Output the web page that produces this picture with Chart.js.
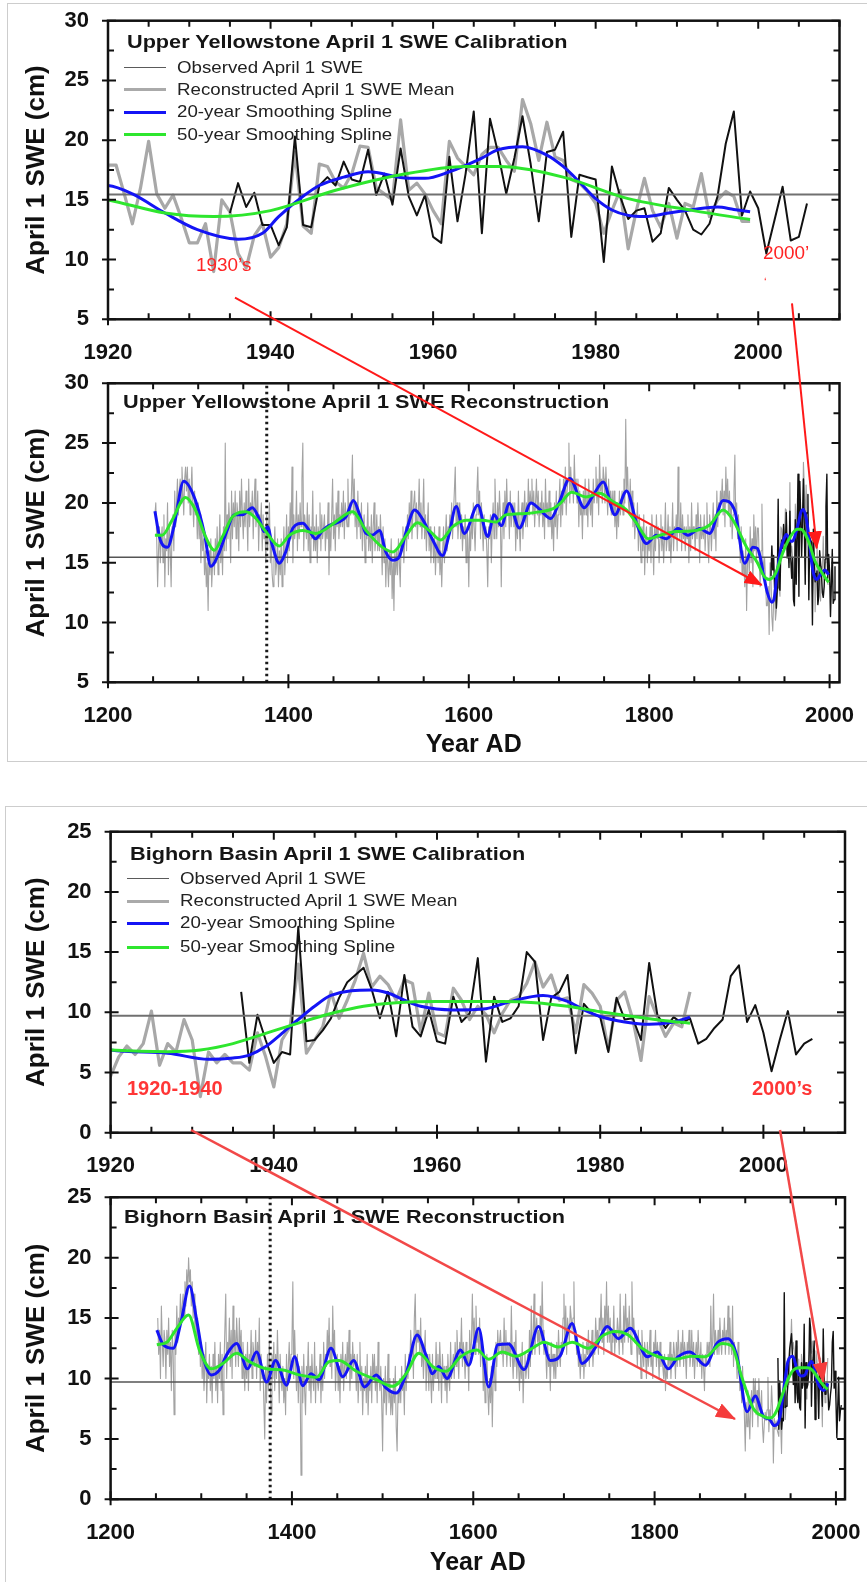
<!DOCTYPE html>
<html>
<head>
<meta charset="utf-8">
<script src="https://cdn.jsdelivr.net/npm/chart.js"></script>
<style>
  body { margin: 0; width: 867px; height: 1582px; overflow: hidden; position: relative; background: #fff;
         font-family: "Liberation Sans", Arial, Helvetica, sans-serif; }
  .frame { position: absolute; border: 1px solid #cdcdcd; }
  canvas { position: absolute; left: 0; }
  .txt { position: absolute; white-space: nowrap; line-height: 20px; transform-origin: 0 50%; }
  .title { font-weight: bold; font-size: 19px; color: #151515; transform: scaleX(1.14); }
  .leg { font-size: 17px; color: #222; transform: scaleX(1.1); }
  .sw { position: absolute; height: 0; }
  .red { color: #ff2424; font-size: 18px; transform: scaleX(1.05); }
  .redb { color: #ff3636; font-size: 20px; font-weight: bold; }
  svg { position: absolute; left: 0; top: 0; }
</style>
</head>
<body>
<div class="frame" style="left:7px;top:3px;width:880px;height:757px"></div>
<div class="frame" style="left:5px;top:806px;width:880px;height:800px"></div>

<canvas id="uyCal" width="867" height="370"></canvas>
<canvas id="uyRec" width="867" height="410"></canvas>
<canvas id="bhCal" width="867" height="393"></canvas>
<canvas id="bhRec" width="867" height="399"></canvas>

<!-- panel titles and legends -->
<div class="txt title" style="left:127px;top:32px">Upper Yellowstone April 1 SWE Calibration</div>
<div class="sw" style="left:124px;width:42px;top:67px;border-top:1.5px solid #5a5a5a"></div>
<div class="sw" style="left:124px;width:42px;top:88px;border-top:3.5px solid #aaaaaa"></div>
<div class="sw" style="left:124px;width:42px;top:111px;border-top:3px solid #1414f5"></div>
<div class="sw" style="left:124px;width:42px;top:133px;border-top:3px solid #2ee62e"></div>
<div class="txt leg" style="left:177px;top:58px">Observed April 1 SWE</div>
<div class="txt leg" style="left:177px;top:80px">Reconstructed April 1 SWE Mean</div>
<div class="txt leg" style="left:177px;top:102px">20-year Smoothing Spline</div>
<div class="txt leg" style="left:177px;top:125px">50-year Smoothing Spline</div>

<div class="txt title" style="left:123px;top:392px">Upper Yellowstone April 1 SWE Reconstruction</div>

<div class="txt title" style="left:130px;top:844px">Bighorn Basin April 1 SWE Calibration</div>
<div class="sw" style="left:127px;width:42px;top:878px;border-top:1.5px solid #5a5a5a"></div>
<div class="sw" style="left:127px;width:42px;top:900px;border-top:3.5px solid #aaaaaa"></div>
<div class="sw" style="left:127px;width:42px;top:922px;border-top:3px solid #1414f5"></div>
<div class="sw" style="left:127px;width:42px;top:946px;border-top:3px solid #2ee62e"></div>
<div class="txt leg" style="left:180px;top:869px">Observed April 1 SWE</div>
<div class="txt leg" style="left:180px;top:891px">Reconstructed April 1 SWE Mean</div>
<div class="txt leg" style="left:180px;top:913px">20-year Smoothing Spline</div>
<div class="txt leg" style="left:180px;top:937px">50-year Smoothing Spline</div>

<div class="txt title" style="left:124px;top:1207px">Bighorn Basin April 1 SWE Reconstruction</div>

<!-- red annotations -->
<div class="txt red" style="left:196px;top:255px">1930’s</div>
<div class="txt red" style="left:763px;top:243px">2000’</div>
<div class="txt red" style="left:764px;top:272px;font-size:11px">ʻ</div>
<div class="txt redb" style="left:127px;top:1078px">1920-1940</div>
<div class="txt redb" style="left:752px;top:1078px">2000’s</div>

<svg width="867" height="1582">
  <defs>
    <marker id="headA" markerUnits="userSpaceOnUse" markerWidth="18" markerHeight="14" refX="17" refY="7" orient="auto">
      <path d="M0,0 L18,7 L0,14 z" fill="#ff1a1a"/>
    </marker>
    <marker id="headB" markerUnits="userSpaceOnUse" markerWidth="20" markerHeight="15" refX="19" refY="7.5" orient="auto">
      <path d="M0,0 L20,7.5 L0,15 z" fill="#f53c3c"/>
    </marker>
  </defs>
  <line x1="235" y1="297.7" x2="761.7" y2="585" stroke="#ff1a1a" stroke-width="2" marker-end="url(#headA)"/>
  <line x1="792" y1="303.3" x2="816.7" y2="548.3" stroke="#ff1a1a" stroke-width="2" marker-end="url(#headA)"/>
  <line x1="191" y1="1130" x2="735" y2="1419" stroke="#f24848" stroke-width="2.5" marker-end="url(#headB)"/>
  <line x1="780" y1="1130" x2="823.3" y2="1381.7" stroke="#f24848" stroke-width="2.5" marker-end="url(#headB)"/>
</svg>

<script>
// ---- axes ----
const calXRange = [1920, 2010];
const uyRecXRange = [1200, 2011];
const bhRecXRange = [1200, 2010];
const calXTicks = [1920, 1940, 1960, 1980, 2000];
const recXTicks = [1200, 1400, 1600, 1800, 2000];
const uyYRange = [5, 30];
const uyYTicks = [5, 10, 15, 20, 25, 30];
const bhYRange = [0, 25];
const bhYTicks = [0, 5, 10, 15, 20, 25];
const splitYear = 1376;

// ---- Upper Yellowstone ----
const uyMean = 15.45;
// reconstructed April 1 SWE, annual, 1252-1919
const uyReconEarly = [
  19,20,17,13,16,18,15,17,
  18,15,19,13,17,16,20,14,18,16,
  13,18,19,16,21,18,20,22,19,21,
  22,20,23,21,19,22,23,21,23,20,
  22,19,21,23,20,18,21,19,20,17,
  20,17,19,15,18,16,17,14,16,13,
  15,11,16,14,17,13,15,16,14,17,
  15,18,14,16,19,15,17,14,18,16,
  25,16,19,17,20,18,15,21,17,20,
  18,21,17,20,19,16,21,18,22,19,
  17,20,18,21,19,16,22,18,20,19,
  21,17,20,22,18,19,21,16,19,18,
  20,16,19,17,18,15,19,16,18,20,
  15,17,14,13,16,18,14,15,17,13,
  16,14,17,13,15,18,14,16,19,15,
  18,16,20,17,23,15,19,17,18,21,
  16,19,17,20,18,22,25,16,19,18,
  17,20,16,19,15,18,17,21,16,18,
  16,19,15,18,17,20,16,19,17,18,
  19,16,18,17,20,14,18,16,19,22,
  17,19,16,20,18,21,17,19,18,20,
  18,21,17,20,19,18,22,18,20,19,
  21,24,19,22,18,20,17,21,18,19,
  17,20,16,18,19,15,18,17,20,16,
  18,16,19,15,18,20,16,17,19,16,
  18,16,19,17,14,18,15,17,13,16,
  15,13,16,14,17,12,15,11,16,14,
  16,14,17,15,13,17,16,18,15,17,
  18,16,19,17,20,18,21,17,19,20,
  21,18,20,17,19,22,18,20,17,19,
  22,17,19,16,18,20,16,18,15,17,
  17,15,18,14,16,17,15,18,14,16,
  13,16,18,15,17,19,16,18,17,19,
  18,20,17,19,21,23,18,20,17,19,
  20,17,19,16,18,17,19,15,18,17,
  13,18,16,19,17,20,18,16,19,21,
  23,19,21,17,20,18,16,19,17,18,
  16,13,18,17,19,15,18,20,17,22,
  19,17,20,18,21,19,13,18,20,17,
  21,18,22,19,20,17,21,18,19,20,
  18,20,16,19,17,21,18,16,19,20,
  17,19,21,18,20,18,22,19,21,20,
  22,19,21,18,20,22,19,21,18,20,
  19,21,18,20,17,22,19,20,18,21,
  18,20,17,19,16,20,18,21,17,19,
  20,22,18,21,19,22,20,23,19,21,
  22,25,20,23,21,22,20,24,21,22,
  20,22,18,21,19,20,17,21,19,22,
  19,21,18,22,20,19,21,18,22,20,
  21,23,20,22,19,24,21,22,20,23,
  22,20,23,21,19,22,20,21,19,21,
  19,21,18,20,17,20,18,21,19,20,
  21,19,22,20,27,21,23,20,19,22,
  19,21,18,20,17,19,18,20,16,19,
  17,15,18,16,19,14,17,18,15,17,
  16,18,15,19,17,14,18,16,19,17,
  18,15,17,19,16,18,15,17,20,16,
  17,19,16,18,15,17,20,16,18,17,
  19,16,23,18,17,20,16,19,17,18,
  16,18,17,19,15,18,16,20,17,18,
  18,16,19,17,20,18,15,19,17,18,
  17,19,16,18,20,17,15,19,18,16,
  18,20,17,19,16,21,18,20,19,21,
  20,22,19,21,18,23,20,22,19,21,
  18,20,17,19,21,24,18,20,17,19,
  17,15,18,14,16,15,13,17,11,15,
  16,14,18,15,17,13,19,16,18,15
];
// reconstructed, calibration period 1920-1999
const uyReconCal = [
  17.9,17.9,15.5,13.0,16.0,19.9,15.5,14.3,15.4,13.5,
  11.4,11.4,13.0,9.0,15.0,14.0,10.5,9.3,12.0,13.0,
  10.2,11.0,13.0,19.0,12.8,12.2,18.0,17.8,16.5,16.0,
  17.2,19.5,19.4,16.0,15.5,15.0,21.7,15.8,16.4,15.5,
  14.1,13.0,19.9,18.5,17.8,17.1,18.8,19.4,19.4,18.3,
  17.4,23.4,21.4,18.3,21.5,18.6,18.3,16.7,16.4,15.7,
  14.7,12.2,14.1,15.8,10.9,14.1,16.8,14.1,12.7,14.7,
  11.8,14.7,14.4,17.2,13.6,15.0,15.7,15.3,13.2,13.2
];
// observed April 1 SWE, 1935-2006
const uyObsStart = 1935;
const uyObs = [
  13.9,16.4,14.4,15.6,12.9,12.9,11.2,12.7,20.3,12.9,
  12.7,16.2,16.9,16.2,18.2,16.7,16.5,19.2,15.4,17.2,
  14.6,19.3,15.3,13.7,15.4,11.9,11.4,18.6,13.2,17.2,
  22.4,12.2,21.8,18.9,15.5,18.5,22.0,18.0,13.2,19.0,
  19.2,20.7,11.9,17.1,16.9,16.7,9.8,17.8,15.3,13.4,
  14.1,14.3,11.5,12.2,16.0,15.0,14.1,12.5,12.1,13.0,
  15.3,19.7,22.4,13.7,15.7,14.3,10.5,13.3,16.1,11.6,
  11.9,14.7
];
// smoothing splines [year, cm]
const uySpline20 = [[1252,19.3],[1258,16.9],[1266,16.3],[1273,18.0],[1284,21.8],[1297,20.2],[1307,17.4],[1314,14.7],
  [1323,15.8],[1332,17.7],[1340,19.0],[1349,19.0],[1360,19.6],[1368,18.6],[1373,17.6],[1377,18.0],[1382,16.5],
  [1390,14.95],[1397,15.9],[1405,17.9],[1416,18.3],[1423,17.7],[1430,17.0],[1438,17.7],[1445,18.1],[1456,18.4],
  [1464,18.85],[1472,20.2],[1479,19.0],[1486,17.45],[1493,17.3],[1501,17.7],[1508,15.9],[1516,15.2],[1523,15.5],
  [1530,17.45],[1540,19.4],[1549,18.6],[1560,16.9],[1571,15.6],[1578,17.3],[1586,19.7],[1595,17.45],[1610,19.8],
  [1621,17.2],[1628,19.0],[1636,18.1],[1645,19.95],[1656,17.9],[1669,20.0],[1678,19.5],[1691,18.7],[1700,20.0],
  [1712,22.05],[1728,19.6],[1738,20.65],[1749,21.75],[1762,19.0],[1775,21.0],[1786,18.3],[1797,16.6],[1808,17.3],
  [1819,17.0],[1832,17.85],[1843,17.3],[1856,17.85],[1867,17.45],[1882,20.2],[1895,19.3],[1906,14.95],[1915,16.3],
  [1920,16.2],[1923,15.5],[1927,13.9],[1931,12.5],[1936,11.7],[1939,12.2],[1941,13.6],[1944,15.3],[1946,16.2],
  [1949,16.9],[1952,17.35],[1957,16.8],[1959,16.8],[1962,17.35],[1966,18.5],[1968,19.2],[1971,19.45],[1974,18.75],
  [1976,17.8],[1978,16.5],[1980,15.1],[1982,14.15],[1984,13.7],[1986,13.6],[1989,13.9],[1992,14.2],[1995,14.4],
  [1997,14.2],[1999,14.0]];
const uySpline50 = [[1252,17.3],[1260,17.3],[1271,18.55],[1286,20.45],[1297,19.4],[1308,17.2],[1318,16.05],[1327,17.2],
  [1338,18.85],[1353,19.25],[1364,18.7],[1375,17.6],[1390,16.4],[1401,17.3],[1416,17.7],[1430,17.45],[1445,18.0],
  [1460,18.85],[1471,19.25],[1486,17.7],[1504,16.3],[1516,15.9],[1530,17.2],[1543,18.35],[1556,17.7],[1569,16.9],
  [1582,18.0],[1597,18.55],[1615,18.55],[1630,18.4],[1641,19.0],[1660,19.1],[1678,19.25],[1693,19.5],[1702,20.0],
  [1714,20.9],[1730,20.5],[1745,20.8],[1760,20.1],[1775,19.4],[1786,18.3],[1799,17.0],[1812,17.3],[1830,17.6],
  [1852,17.7],[1867,18.15],[1882,19.4],[1893,18.55],[1908,16.3],[1920,15.0],[1927,13.9],[1933,13.6],[1940,14.1],
  [1948,15.8],[1956,17.1],[1964,17.8],[1968,17.8],[1976,16.9],[1984,15.1],[1992,14.1],[1999,13.35]];

// ---- Bighorn Basin ----
const bhMean = 9.72;
const bhReconEarly = [
  15,12,14,10,16,13,11,14,
  13,10,14,12,15,11,13,9,14,12,
  7,14,12,16,13,15,14,17,15,16,
  17,15,18,16,19,17,20,18,19,16,
  18,15,17,14,16,13,15,12,14,11,
  13,10,12,9,11,13,8,11,10,12,
  9,11,8,12,10,13,9,11,8,12,
  10,13,9,12,7,11,14,17,10,13,
  12,15,11,14,10,16,12,14,11,15,
  13,11,15,12,14,10,13,11,9,12,
  10,13,9,12,11,14,10,13,12,11,
  14,10,13,11,15,9,12,10,11,8,
  5,11,8,12,9,13,10,7,12,10,
  13,9,12,10,14,11,8,12,10,9,
  11,8,10,7,12,9,11,13,10,12,
  13,18,10,14,11,9,12,8,11,10,
  2,11,8,12,9,7,11,10,13,9,
  11,8,12,10,9,13,8,11,10,9,
  10,12,8,11,9,13,10,12,11,14,
  12,15,11,13,10,16,12,14,9,11,
  12,9,11,8,12,10,13,9,11,12,
  10,13,11,14,9,12,10,13,11,12,
  11,9,12,8,10,13,9,11,7,10,
  9,11,8,12,7,10,9,11,8,12,
  10,12,9,11,8,13,10,9,11,8,
  4,10,8,11,7,9,12,8,10,7,
  9,7,10,8,11,6,4,9,8,10,
  8,11,9,10,7,12,9,11,10,12,
  11,14,12,13,10,15,17,12,14,13,
  14,12,15,11,13,10,12,14,9,12,
  11,9,12,10,8,12,9,11,10,13,
  10,12,9,13,11,8,12,10,11,9,
  11,8,12,10,9,13,10,11,12,10,
  13,11,14,12,10,13,12,15,11,13,
  12,10,13,11,12,9,14,12,13,17,
  13,15,12,16,13,14,12,15,11,13,
  12,9,11,8,10,12,9,7,10,8,
  11,6,10,12,9,13,11,14,12,13,
  14,12,13,11,15,12,14,11,13,12,
  13,11,16,12,10,13,11,14,10,12,
  11,9,12,10,13,8,11,12,10,11,
  12,10,14,11,16,12,13,17,12,14,
  15,13,14,12,16,13,18,14,12,13,
  12,10,13,11,12,9,13,11,12,10,
  12,10,13,11,14,12,11,13,12,15,
  17,13,16,12,15,14,13,16,15,14,
  15,18,13,14,12,13,11,12,10,12,
  11,13,10,12,11,13,12,14,11,13,
  12,14,11,13,12,15,13,14,12,15,
  14,17,13,15,12,16,14,18,13,16,
  13,15,12,14,13,16,12,14,13,15,
  14,12,17,13,14,12,16,13,17,14,
  15,13,16,14,12,18,14,15,13,14,
  13,11,14,12,13,10,14,12,11,13,
  12,10,13,11,12,14,11,12,10,13,
  12,14,11,13,12,10,13,11,12,11,
  10,12,9,11,10,12,11,13,10,12,
  11,13,12,10,13,11,14,12,11,13,
  12,14,11,13,12,10,13,12,14,11,
  12,14,11,13,10,12,13,11,14,12,
  11,13,10,12,11,9,12,11,13,12,
  13,11,16,12,13,17,12,14,13,12,
  14,12,15,13,12,14,13,15,12,14,
  13,16,12,15,13,12,16,11,13,12,
  12,10,13,11,9,10,8,11,9,7,
  4,8,6,9,7,5,8,9,6,10,
  8,10,7,9,6,10,8,7,9,6
];
const bhReconCal = [
  4.7,6.3,7.2,6.5,7.4,10.1,5.6,7.4,6.7,9.4,
  7.7,3.0,6.7,5.8,6.5,5.8,5.8,5.2,8.3,6.3,
  3.8,7.7,8.8,14.0,6.6,7.7,8.8,11.7,9.5,11.0,
  12.7,14.9,12.1,13.0,12.3,11.0,12.7,12.4,8.4,11.6,
  8.3,8.0,12.0,11.0,9.4,10.5,9.8,8.3,9.9,11.0,
  11.3,12.4,14.2,12.1,13.1,11.0,11.2,8.3,12.3,11.6,
  10.5,6.9,11.0,11.7,9.4,6.0,11.3,9.6,8.0,9.1,
  8.8,11.7
];
const bhObsStart = 1936;
const bhObs = [
  11.7,5.8,9.8,7.7,
  5.8,6.7,6.5,17.1,7.6,7.7,8.5,9.5,11.2,12.5,
  13.1,13.7,11.9,9.5,11.7,8.0,13.1,8.8,8.0,10.2,
  7.6,7.4,11.3,9.2,9.9,14.5,5.9,11.3,9.2,9.5,
  10.5,15.0,14.2,7.7,11.2,11.7,13.1,6.6,10.7,9.9,
  9.6,6.7,11.2,9.4,9.5,7.7,14.1,9.8,8.7,9.6,
  9.1,9.5,7.4,7.8,8.7,9.4,13.0,13.9,9.2,10.6,
  8.3,5.1,7.7,10.1,6.5,7.4,7.8
];
const bhSpline20 = [[1251,14.0],[1258,12.8],[1269,12.5],[1278,14.8],[1287,17.65],[1295,14.8],[1302,11.8],[1311,10.3],
  [1320,10.7],[1329,12.1],[1339,12.9],[1351,10.8],[1361,12.2],[1372,9.7],[1382,11.5],[1394,9.45],[1403,11.8],
  [1412,9.4],[1421,10.4],[1430,9.9],[1443,12.5],[1456,10.15],[1468,11.5],[1480,9.3],[1493,10.3],[1504,9.2],
  [1515,8.8],[1526,10.4],[1538,13.6],[1548,11.9],[1555,10.4],[1562,11.0],[1571,10.0],[1586,12.35],[1595,11.1],
  [1606,14.15],[1617,9.3],[1627,12.8],[1639,12.85],[1656,10.75],[1672,14.3],[1685,11.5],[1696,11.9],[1709,14.55],
  [1720,11.25],[1735,12.6],[1748,14.3],[1760,13.3],[1773,14.15],[1792,11.8],[1803,12.2],[1815,10.8],[1826,11.8],
  [1839,12.2],[1856,11.1],[1869,12.95],[1881,13.3],[1891,11.8],[1902,7.25],[1911,8.55],[1920,6.87],[1927,6.6],
  [1932,6.1],[1935,6.2],[1937,6.45],[1939,7.15],[1941,8.25],[1943,9.4],[1945,10.5],[1947,11.4],[1952,11.85],
  [1954,11.6],[1956,11.0],[1958,10.5],[1962,10.2],[1966,10.3],[1969,10.9],[1973,11.4],[1976,10.9],[1978,10.2],
  [1980,9.65],[1983,9.2],[1986,9.0],[1989,9.2],[1991,9.6]];
const bhSpline50 = [[1251,12.8],[1262,13.0],[1273,14.15],[1286,15.25],[1298,12.35],[1311,10.8],[1324,11.25],[1339,12.1],
  [1353,11.4],[1372,10.8],[1390,10.7],[1408,10.3],[1427,10.1],[1441,11.4],[1452,11.5],[1471,10.6],[1493,9.9],
  [1511,9.35],[1526,10.4],[1540,12.1],[1555,11.0],[1570,10.6],[1586,11.8],[1604,12.35],[1617,11.6],[1632,12.2],
  [1647,11.85],[1665,12.5],[1678,13.0],[1694,12.6],[1709,13.0],[1727,12.5],[1744,13.6],[1757,13.9],[1771,13.6],
  [1786,12.5],[1804,11.8],[1823,11.6],[1841,11.85],[1856,11.8],[1874,12.9],[1885,12.7],[1896,10.15],[1909,7.5],
  [1920,6.87],[1927,6.73],[1931,6.87],[1935,7.4],[1939,8.25],[1943,9.1],[1947,9.9],[1951,10.5],[1955,10.8],
  [1960,10.9],[1968,10.9],[1972,10.8],[1976,10.5],[1980,10.05],[1984,9.65],[1988,9.3],[1991,9.1]];

// ---- helpers ----
Chart.defaults.font.family = '"Liberation Sans", Arial, Helvetica, sans-serif';
Chart.defaults.color = '#111';

const GREEN = '#2ee62e';
const BLUE = '#1414f5';

const pts = (start, vals) => vals.map((v, i) => ({x: start + i, y: v}));
const pairs = arr => arr.map(([x, y]) => ({x, y}));
const hline = (v, range) => [{x: range[0], y: v}, {x: range[1], y: v}];
const vline = (x, range) => [{x, y: range[0]}, {x, y: range[1]}];
const line = (data, color, width, extra) => Object.assign({
  data, borderColor: color, borderWidth: width, pointRadius: 0, tension: 0,
  fill: false, borderJoinStyle: 'round'
}, extra || {});
const smooth = {cubicInterpolationMode: 'monotone'};
const dotted = {borderDash: [2.5, 3.5]};

// ticks pointing inward on all four sides, plus the box
const frameTicks = {
  id: 'frameTicks',
  afterDraw(chart, args, o) {
    const {ctx, chartArea: a} = chart;
    const xs = chart.scales.x, ys = chart.scales.y;
    ctx.save();
    ctx.strokeStyle = '#111';
    ctx.lineWidth = 2;
    ctx.beginPath();
    for (let v = o.xMajor[0]; v <= xs.max + 1e-6; v += o.xMinor) {
      const p = xs.getPixelForValue(v);
      const major = o.xMajor.includes(v);
      const inn = major ? 8 : 6;
      ctx.moveTo(p, a.bottom + (major ? 6 : 0)); ctx.lineTo(p, a.bottom - inn);
      ctx.moveTo(p, a.top); ctx.lineTo(p, a.top + inn);
    }
    for (let v = ys.min; v <= ys.max + 1e-6; v += o.yMinor) {
      const p = ys.getPixelForValue(v);
      const major = o.yMajor.includes(v);
      const inn = major ? 8 : 6;
      ctx.moveTo(a.left - (major ? 6 : 0), p); ctx.lineTo(a.left + inn, p);
      ctx.moveTo(a.right, p); ctx.lineTo(a.right - inn, p);
    }
    ctx.stroke();
    ctx.lineWidth = 2.5;
    ctx.strokeRect(a.left, a.top, a.right - a.left, a.bottom - a.top);
    ctx.restore();
  }
};

function panel(id, top, height, box, xRange, xTicks, xMinor, yRange, yTicks, datasets, xTitlePad) {
  const canvas = document.getElementById(id);
  canvas.style.top = top + 'px';
  canvas.style.width = '867px';
  canvas.style.height = height + 'px';
  const tickFont = {size: 22, weight: 'bold'};
  return new Chart(canvas, {
    type: 'line',
    data: {datasets},
    options: {
      responsive: false,
      animation: false,
      devicePixelRatio: 1,
      layout: {padding: {left: 0, top: box.top - top, right: 867 - box.right, bottom: 0}},
      plugins: {
        legend: {display: false},
        tooltip: {enabled: false},
        frameTicks: {xMajor: xTicks, xMinor, yMajor: yTicks, yMinor: 2.5}
      },
      scales: {
        x: {
          type: 'linear', min: xRange[0], max: xRange[1],
          afterBuildTicks: s => { s.ticks = xTicks.map(v => ({value: v})); },
          afterFit: s => { s.height = top + height - box.bottom; s.paddingLeft = 0; s.paddingRight = 0; },
          grid: {display: false, drawTicks: false},
          border: {display: false},
          ticks: {font: tickFont, color: '#111', padding: 20, maxRotation: 0, autoSkip: false, callback: v => String(v)},
          title: {display: xTitlePad !== null, text: 'Year AD', color: '#111',
                  font: {size: 25, weight: 'bold'}, padding: {top: 0, bottom: xTitlePad || 0}}
        },
        y: {
          type: 'linear', min: yRange[0], max: yRange[1],
          afterBuildTicks: s => { s.ticks = yTicks.map(v => ({value: v})); },
          afterFit: s => { s.width = box.left; s.paddingTop = 0; s.paddingBottom = 0; },
          grid: {display: false, drawTicks: false},
          border: {display: false},
          ticks: {font: tickFont, color: '#111', padding: 19, callback: v => String(v)},
          title: {display: true, text: 'April 1 SWE (cm)', color: '#111',
                  font: {size: 26, weight: 'bold'}, padding: {top: 21, bottom: 0}}
        }
      }
    },
    plugins: [frameTicks]
  });
}

const uyRecon = pts(1252, uyReconEarly).concat(pts(1920, uyReconCal));
const bhRecon = pts(1252, bhReconEarly).concat(pts(1920, bhReconCal));

// first dataset is drawn on top
panel('uyCal', 0, 370, {left: 108, right: 839.5, top: 20.7, bottom: 319.3},
  calXRange, calXTicks, 5, uyYRange, uyYTicks, [
    line(pairs(uySpline50), GREEN, 3, smooth),
    line(pairs(uySpline20), BLUE, 3, smooth),
    line(hline(uyMean, calXRange), '#707070', 2),
    line(pts(uyObsStart, uyObs), '#111', 2),
    line(uyRecon, '#a8a8a8', 3.2)
  ], null);

panel('uyRec', 370, 410, {left: 108, right: 839.5, top: 383.3, bottom: 682.3},
  uyRecXRange, recXTicks, 50, uyYRange, uyYTicks, [
    line(pairs(uySpline50), GREEN, 3, smooth),
    line(pairs(uySpline20), BLUE, 3, smooth),
    line(vline(splitYear, uyYRange), '#1a1a1a', 3, dotted),
    line(hline(uyMean, uyRecXRange), '#555', 1.5),
    line(pts(uyObsStart, uyObs), '#111', 1.4),
    line(uyRecon, '#a3a3a3', 1.1)
  ], 20);

panel('bhCal', 790, 393, {left: 110.6, right: 845, top: 831.7, bottom: 1132.7},
  calXRange, calXTicks, 5, bhYRange, bhYTicks, [
    line(pairs(bhSpline50), GREEN, 3, smooth),
    line(pairs(bhSpline20), BLUE, 3, smooth),
    line(hline(bhMean, calXRange), '#707070', 2),
    line(pts(bhObsStart, bhObs), '#111', 2),
    line(bhRecon, '#a8a8a8', 3.2)
  ], null);

panel('bhRec', 1183, 399, {left: 110.6, right: 845, top: 1197.3, bottom: 1499.3},
  bhRecXRange, recXTicks, 50, bhYRange, bhYTicks, [
    line(pairs(bhSpline50), GREEN, 3, smooth),
    line(pairs(bhSpline20), BLUE, 3, smooth),
    line(vline(splitYear, bhYRange), '#1a1a1a', 3, dotted),
    line(hline(bhMean, bhRecXRange), '#555', 1.5),
    line(pts(bhObsStart, bhObs), '#111', 1.4),
    line(bhRecon, '#a3a3a3', 1.1)
  ], 4);
</script>
</body>
</html>
